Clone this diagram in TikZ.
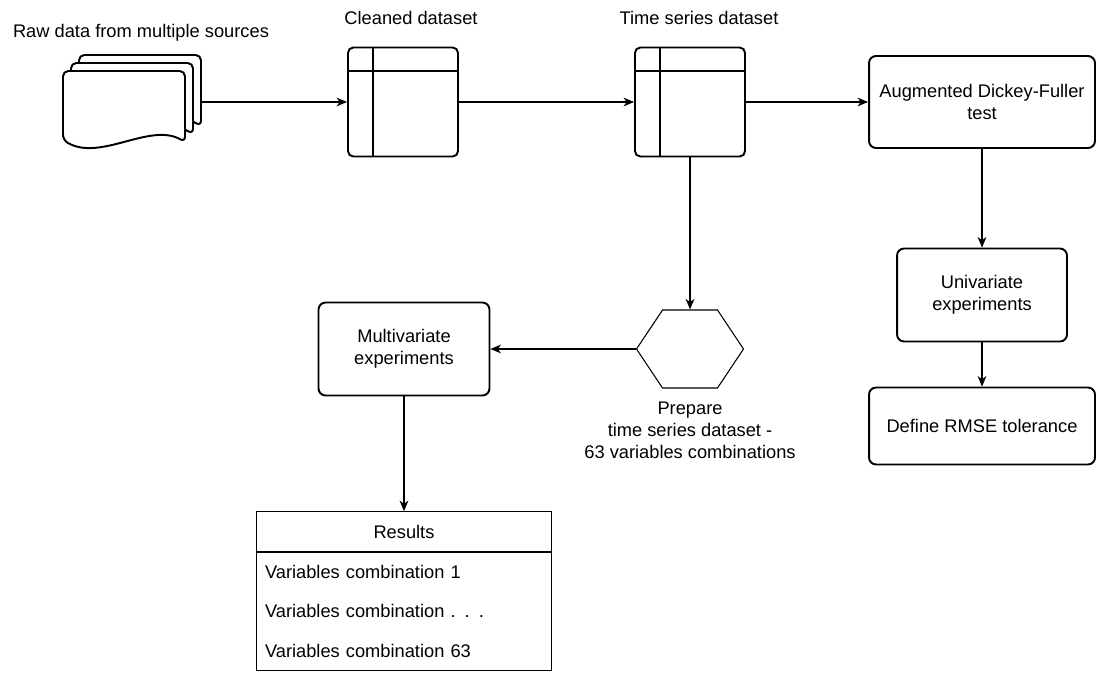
\documentclass[tikz,border=0pt]{standalone}
\usepackage{fontspec}
\setmainfont{Liberation Sans}
\usetikzlibrary{positioning,arrows.meta,calc,shapes.symbols}

\begin{document}
\begin{tikzpicture}[x=0.02cm,y=-0.02cm,
    every node/.style={font=\fontsize{10.4}{12.5}\selectfont},
    arr/.style={-{Stealth[length=6pt,width=5pt,inset=1.8pt]},line width=0.6pt},
    procbox/.style={draw,line width=1.1pt,rounded corners=4pt,align=center},
    tablebox/.style={draw,line width=1.1pt,rounded corners=3pt,
      minimum width=2.2cm,minimum height=2.18cm,
      path picture={\draw[line width=1.1pt]
        ($(path picture bounding box.north west)+(25,0)$) -- ($(path picture bounding box.south west)+(25,0)$)
        ($(path picture bounding box.north west)+(0,23.5)$) -- ($(path picture bounding box.north east)+(0,23.5)$);}},
    docshape/.style={draw,fill=white,line width=1.1pt,rounded corners=3pt},
    hexa/.style={draw,line width=0.6pt,signal,signal to=west and east,
      signal pointer angle=112.6,minimum width=2.14cm,minimum height=1.56cm},
    listhead/.style={minimum width=5.88cm,minimum height=0.8cm},
    listrow/.style={text width=5.56cm,inner xsep=0.16cm,minimum height=0.78cm,align=left}]
  \useasboundingbox (0,0) rectangle (1097,673);

  % stack of source documents
  \foreach \o in {16,8,0}
    \draw[docshape] (63+\o,140-\o) -- (63+\o,71-\o) -- (185+\o,71-\o) -- (185+\o,142-\o)
      .. controls (150+\o,122-\o) and (100+\o,162-\o) .. cycle;
  \coordinate (docs) at (201,102);
  \node (rawlbl) at (141,33) {Raw data from multiple sources};

  % datasets
  \node[tablebox] (clean) at (403,102) {};
  \node (cleanlbl) at (411,18) {Cleaned dataset};
  \node[tablebox] (ts) at (690,102) {};
  \node (tslbl) at (699,18) {Time series dataset};

  % right branch
  \node[procbox,minimum width=4.52cm,minimum height=1.84cm] (adf) at (982,102) {Augmented Dickey-Fuller\\test};
  \node[procbox,minimum width=3.4cm,minimum height=1.86cm] (univ) at (982,295) {Univariate\\experiments};
  \node[procbox,minimum width=4.52cm,minimum height=1.54cm] (rmse) at (982,426) {Define RMSE tolerance};

  % left branch
  \node[hexa] (prep) at (690,349) {};
  \node[align=center] (preplbl) at (690,430) {Prepare\\time series dataset -\\63 variables combinations};
  \node[procbox,minimum width=3.42cm,minimum height=1.86cm] (multi) at (404,349) {Multivariate\\experiments};

  % results list
  \node[listhead] (res) at (404,531.5) {Results};
  \node[listrow,below=0pt of res] (row1) {Variables combination 1};
  \node[listrow,below=0pt of row1] (row2) {Variables combination . . .};
  \node[listrow,below=0pt of row2] (row3) {Variables combination 63};
  \draw[line width=0.6pt] (res.north west) rectangle (row3.south east);
  \draw[line width=0.9pt] (res.south west) -- (res.south east);

  \draw[arr] (docs) -- (clean);
  \draw[arr] (clean) -- (ts);
  \draw[arr] (ts) -- (adf);
  \draw[arr] (adf) -- (univ);
  \draw[arr] (univ) -- (rmse);
  \draw[arr] (ts) -- (prep);
  \draw[arr] (prep) -- (multi);
  \draw[arr] (multi) -- (res);
\end{tikzpicture}
\end{document}
